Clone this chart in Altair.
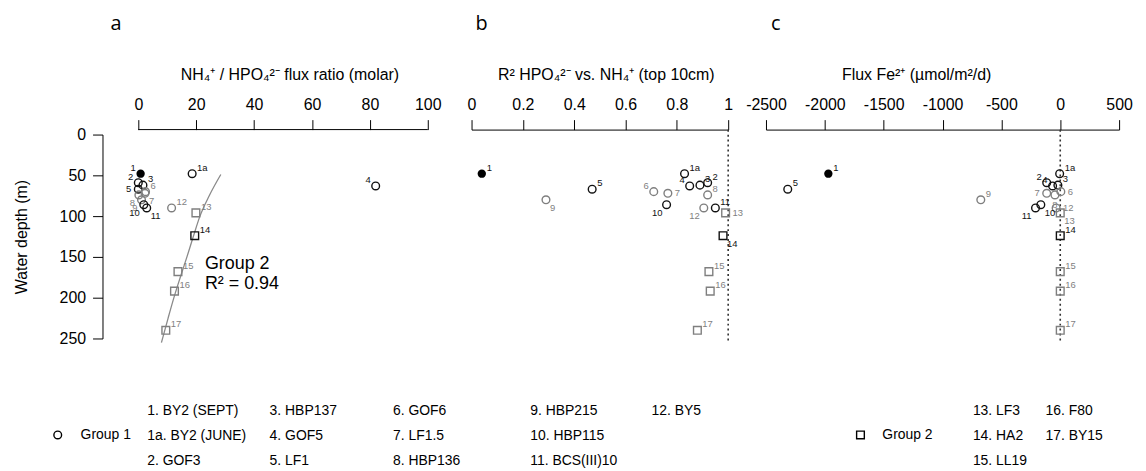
import altair as alt
import pandas as pd

FONT = "Liberation Sans"

# ---------------- data ----------------
station = ["1", "1a", "2", "3", "4", "5", "6", "7", "8", "9", "10", "11", "12", "13", "14", "15", "16", "17"]
group = [1, 1, 1, 1, 1, 1, 1, 1, 1, 1, 1, 1, 1, 2, 2, 2, 2, 2]
depth = [48, 48, 59, 62, 63, 67, 70, 72, 74, 80, 86, 90, 90, 96, 124, 168, 192, 240]
ratio = [0.8, 18.6, 0, 1.6, 82, 0, 2.5, 2.3, 0.2, 1.1, 1.9, 2.9, 11.5, 19.9, 19.5, 13.7, 12.5, 9.5]
r2 = [0.04, 0.83, 0.92, 0.89, 0.85, 0.47, 0.71, 0.765, 0.92, 0.29, 0.76, 0.95, 0.905, 0.99, 0.98, 0.925, 0.93, 0.88]
fe_flux = [-1970, -5, -115, -20, -65, -2315, 5, -115, -45, -675, -165, -210, -35, 0, 0, 0, 0, 0]
tone = ["dark", "dark", "dark", "dark", "dark", "dark", "grey", "grey", "grey", "grey",
        "dark", "dark", "grey", "grey", "dark", "grey", "grey", "grey"]

# Group 2 power-law fit curve (panel a)
fit_depth = [49, 75, 100, 125, 150, 175, 200, 225, 255]
fit_ratio = [28.5, 24.5, 21.3, 19.0, 16.8, 14.5, 12.3, 10.3, 8.0]

depth_ticks = [0, 50, 100, 150, 200, 250]
ratio_ticks = [0, 20, 40, 60, 80, 100]
r2_ticks = [0, 0.2, 0.4, 0.6, 0.8, 1]
fe_ticks = [-2500, -2000, -1500, -1000, -500, 0, 500]

fit_text = ["Group 2", "R² = 0.94"]
fit_text_x = [23, 23]
fit_text_depth = [159, 183]

legend_g1_cols = [["1. BY2 (SEPT)", "1a. BY2 (JUNE)", "2. GOF3"],
                  ["3. HBP137", "4. GOF5", "5. LF1"],
                  ["6. GOF6", "7. LF1.5", "8. HBP136"],
                  ["9. HBP215", "10. HBP115", "11. BCS(III)10"],
                  ["12. BY5"]]
legend_g2_cols = [["13. LF3", "14. HA2", "15. LL19"],
                  ["16. F80", "17. BY15"]]

# ---------------- layout / style ----------------
PLOT_H = 205
OFFS = {"ur": (5, -6, "left"), "ul": (-5, -6, "right"), "l": (-7, 0, "right"),
        "r": (7, 0, "left"), "ll": (-4, 8, "right"), "lr": (4, 8, "left"), "d": (0, 10, "center")}
lab_a = {"ul": ["1", "2", "4"], "l": ["5"], "ll": ["8", "9", "10"], "lr": ["7", "11"]}
lab_b = {"ul": ["4", "6"], "ll": ["10", "12"], "lr": ["9", "14"], "r": ["7", "13"]}
lab_c = {"ul": ["2", "4"], "l": ["7"], "ll": ["11"], "lr": ["10", "13"], "r": ["6", "12"], "d": ["8"]}

AX = dict(tickSize=10, labelFontSize=16, labelPadding=7, titleFontSize=16, titleFontWeight="normal",
          titleColor="black", labelColor="black", tickColor="black", domainColor="black", grid=False,
          labelFont=FONT, titleFont=FONT, tickWidth=1, domainWidth=1, labelFlush=False,
          labelOverlap=False)


def dirs_for(mapping):
    out = []
    for s in station:
        d = "ur"
        for k, v in mapping.items():
            if s in v:
                d = k
        out.append(d)
    return out


def build_panel(xvals, xdom, width, xticks, xtitle, title_x, mapping, letter, letter_dx,
                show_y=False, hide_domain=False, fmt=None, label_expr=None):
    df = pd.DataFrame({"x": xvals, "depth": depth, "station": station, "group": group,
                       "tone": tone, "dir": dirs_for(mapping)})
    axis_kw = dict(orient="top", values=xticks, offset=5, title=xtitle, titleX=title_x,
                   titlePadding=14, domain=not hide_domain, **AX)
    if fmt:
        axis_kw["format"] = fmt
    if label_expr:
        axis_kw["labelExpr"] = label_expr
    X = alt.X("x:Q", scale=alt.Scale(domain=xdom, nice=False, zero=False), axis=alt.Axis(**axis_kw))
    if show_y:
        yaxis = alt.Axis(orient="left", values=depth_ticks, offset=36, title="Water depth (m)",
                         titlePadding=30, **AX)
    else:
        yaxis = None
    Y = alt.Y("depth:Q", scale=alt.Scale(domain=[0, 250], nice=False, zero=False, reverse=True),
              axis=yaxis)
    color = alt.Color("tone:N", scale=alt.Scale(domain=["dark", "grey"], range=["#111111", "#7f7f7f"]),
                      legend=None)
    base = alt.Chart(df).encode(x=X, y=Y)
    layers = []
    layers.append(base.transform_filter("datum.group == 1 && datum.station != '1'")
                  .mark_point(shape="circle", size=60, strokeWidth=1.4, filled=False, opacity=1)
                  .encode(color=color))
    layers.append(base.transform_filter("datum.station == '1'")
                  .mark_point(shape="circle", size=70, filled=True, color="black", opacity=1))
    layers.append(base.transform_filter("datum.group == 2")
                  .mark_point(shape="square", size=60, strokeWidth=1.4, filled=False, opacity=1)
                  .encode(color=color))
    for k, (dx, dy, al) in OFFS.items():
        layers.append(base.transform_filter(f"datum.dir == '{k}'")
                      .mark_text(dx=dx, dy=dy, align=al, baseline="middle", fontSize=9.5, font=FONT)
                      .encode(text="station:N", color=color))
    letter_layer = alt.Chart(pd.DataFrame({"t": [letter]})).mark_text(
        font="Open Sans", fontSize=20, align="left", baseline="middle", color="black"
    ).encode(text="t:N", x=alt.value(letter_dx), y=alt.value(-111))
    layers.append(letter_layer)
    return X, Y, layers


# ---------------- panel a ----------------
Xa, Ya, la = build_panel(ratio, [0, 102.06], 297, ratio_ticks,
                         "NH₄⁺ / HPO₄²⁻ flux ratio (molar)", 152, lab_a, "a", -28,
                         show_y=True, hide_domain=True)
curve = alt.Chart(pd.DataFrame({"x": fit_ratio, "depth": fit_depth})).mark_line(
    color="#8a8a8a", strokeWidth=1.3, interpolate="monotone"
).encode(x=Xa, y=Ya, order=alt.Order("depth:Q"))
axis_line = alt.Chart(pd.DataFrame({"x": [ratio_ticks[0]], "x2": [ratio_ticks[-1]]})).mark_rule(
    color="black", strokeWidth=1
).encode(x=Xa, x2="x2:Q", y=alt.value(-5))
fit_lbl = alt.Chart(pd.DataFrame({"x": fit_text_x, "depth": fit_text_depth, "t": fit_text})).mark_text(
    align="left", baseline="middle", fontSize=18, font=FONT, color="black"
).encode(x=Xa, y=Ya, text="t:N")

# legend (placed below the panels, relative to panel a's plot origin)
LEG_FS = 14
LEG_LH = 25
leg_g1_x = [9, 132, 256, 394, 516]
leg_g2_x = [839, 912]
leg_first_baseline = 282
leg_mid = 302
legend_layers = []
for cx, col in zip(leg_g1_x + leg_g2_x, legend_g1_cols + legend_g2_cols):
    legend_layers.append(
        alt.Chart(pd.DataFrame({"t": ["\n".join(col)]})).mark_text(
            align="left", baseline="alphabetic", fontSize=LEG_FS, font=FONT, color="black",
            lineBreak="\n", lineHeight=LEG_LH
        ).encode(text="t:N", x=alt.value(cx), y=alt.value(leg_first_baseline))
    )
for gx, txt in [(-58, "Group 1"), (748, "Group 2")]:
    legend_layers.append(
        alt.Chart(pd.DataFrame({"t": [txt]})).mark_text(
            align="left", baseline="middle", fontSize=LEG_FS, font=FONT, color="black"
        ).encode(text="t:N", x=alt.value(gx), y=alt.value(leg_mid))
    )
for mx, shp in [(-81, "circle"), (726, "square")]:
    legend_layers.append(
        alt.Chart(pd.DataFrame({"s": [shp]})).mark_point(
            shape=shp, size=60, filled=False, strokeWidth=1.4, color="black", opacity=1
        ).encode(x=alt.value(mx), y=alt.value(leg_mid))
    )

panel_a = alt.layer(curve, axis_line, fit_lbl, *la, *legend_layers).properties(width=297, height=PLOT_H)

# ---------------- panel b ----------------
Xb, Yb, lb = build_panel(r2, [0, 1], 258, r2_ticks,
                         "R²  HPO₄²⁻ vs. NH₄⁺ (top 10cm)", 135, lab_b, "b", 4, fmt="~g")
dotted_b = alt.Chart(pd.DataFrame({"x": [1], "depth": [-6], "d2": [253]})).mark_rule(
    color="#333333", strokeWidth=1.6, strokeDash=[2, 3]
).encode(x=Xb, y=Yb, y2="d2:Q")
panel_b = alt.layer(dotted_b, *lb).properties(width=258, height=PLOT_H)

# ---------------- panel c ----------------
Xc, Yc, lc = build_panel(fe_flux, [-2500, 500], 355, fe_ticks,
                         "Flux Fe²⁺ (µmol/m²/d)", 151, lab_c, "c", 5,
                         label_expr="'' + datum.value")
dotted_c = alt.Chart(pd.DataFrame({"x": [0], "depth": [-6], "d2": [253]})).mark_rule(
    color="#333333", strokeWidth=1.6, strokeDash=[2, 3]
).encode(x=Xc, y=Yc, y2="d2:Q")
panel_c = alt.layer(dotted_c, *lc).properties(width=355, height=PLOT_H)

chart = alt.hconcat(panel_a, panel_b, panel_c, spacing=38, bounds="flush").properties(
    padding={"left": 5, "top": 5, "right": 5, "bottom": 2}, background="white"
).configure_view(stroke=None)

chart.save("out.html", embed_options={"renderer": "svg", "actions": False})
